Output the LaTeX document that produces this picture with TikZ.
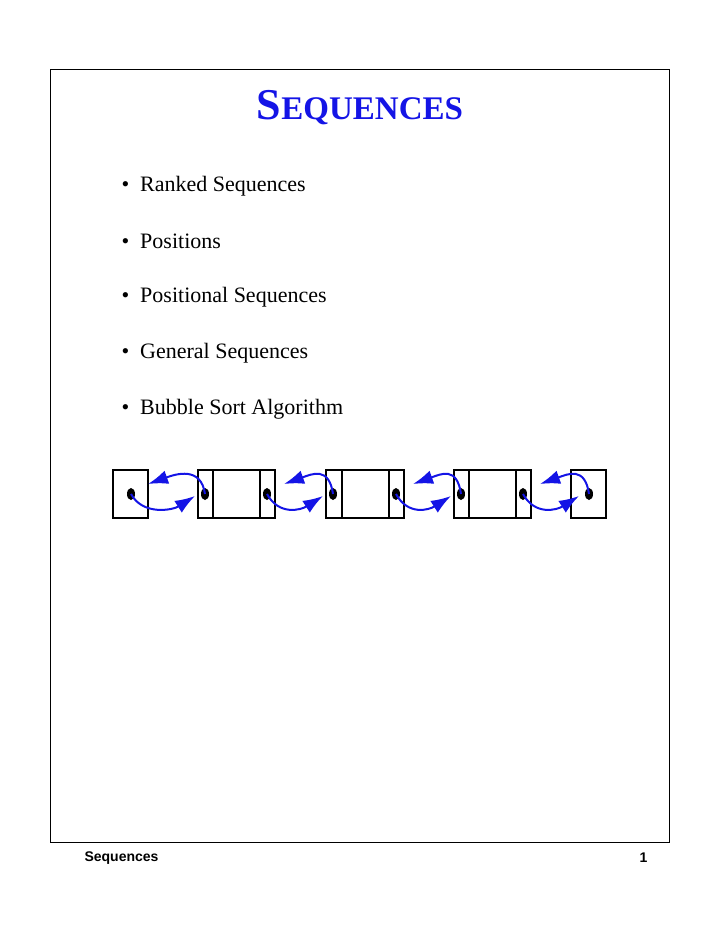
\documentclass[tikz,border=0pt]{standalone}
\usepackage{fontspec}
\setmainfont{Liberation Serif}
\setsansfont{Liberation Sans}
\usetikzlibrary{arrows.meta}
\definecolor{tblue}{RGB}{20,20,230}
\begin{document}
\begin{tikzpicture}[x=1pt,y=-1pt,
  box/.style={draw,line width=2pt},
  lnk/.style={draw=tblue,line width=2pt,-{Latex[length=20pt,width=14pt]}},
  bul/.style={anchor=west,font=\fontsize{22}{26}\selectfont}]
\useasboundingbox (0,0) rectangle (720,932);
\draw[line width=0.8pt] (50,69) rectangle (669,842);
\node[text=tblue,font=\fontsize{44}{50}\selectfont\bfseries] (title) at (360,108) {S\fontsize{33}{38}\selectfont EQUENCES};
\foreach \t/\y [count=\i] in {Ranked Sequences/186,Positions/241,Positional Sequences/297,General Sequences/353,Bubble Sort Algorithm/409}
  \node[bul] (b\i) at (118,\y) {\textbullet\hspace{11pt}\t};
% boxes
\draw[box] (113,470) rectangle (148,518);
\draw[box] (198,470) rectangle (275,518); \draw[box] (213,470)--(213,518); \draw[box] (260,470)--(260,518);
\draw[box] (326,470) rectangle (404,518); \draw[box] (342,470)--(342,518); \draw[box] (389,470)--(389,518);
\draw[box] (454,470) rectangle (531,518); \draw[box] (469,470)--(469,518); \draw[box] (516,470)--(516,518);
\draw[box] (571,470) rectangle (606,518);
\foreach \n/\x in {h/131,a/205,b/267,c/333,d/396,e/461,f/523,t/589}
  \coordinate (\n) at (\x,494);
\foreach \n in {h,a,b,c,d,e,f,t}
  \fill (\n) ellipse (4pt and 6pt);
% forward links
\foreach \s/\e in {h/a,b/c,d/e,f/t}
  \draw[lnk] (\s) .. controls +(12,22) and +(-22,14) .. ([shift={(-10,2)}]\e);
% backward links
\foreach \s/\e in {a/h,c/b,e/d,t/f}
  \draw[lnk] (\s) .. controls +(-4,-28) and +(28,-10) .. ([shift={(17,-10)}]\e);
\node[font=\sffamily\bfseries\fontsize{14}{16}\selectfont,anchor=west] (fl) at (81,858) {Sequences};
\node[font=\sffamily\bfseries\fontsize{14}{16}\selectfont,anchor=east] (fr) at (651,858) {1};
\end{tikzpicture}
\end{document}
